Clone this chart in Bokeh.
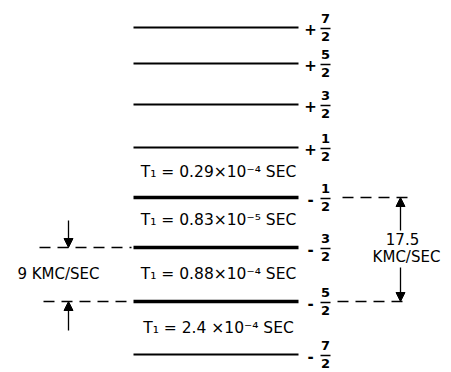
from bokeh.plotting import figure
from bokeh.models import Range1d, ColumnDataSource, Arrow, NormalHead
from bokeh.core.properties import value
from bokeh.embed import file_html
from bokeh.resources import INLINE

# ---- data (diagram units: position measured downward) ----
level_sign = ["+", "+", "+", "+", "-", "-", "-", "-"]
level_num = ["7", "5", "3", "1", "1", "3", "5", "7"]
level_den = ["2", "2", "2", "2", "2", "2", "2", "2"]
level_pos = [27, 63, 104, 147, 197, 247, 301, 354]
level_heavy = [False, False, False, False, True, True, True, False]

t1_labels = ["T\u2081 = 0.29\u00d710\u207b\u2074 SEC",
             "T\u2081 = 0.83\u00d710\u207b\u2075 SEC",
             "T\u2081 = 0.88\u00d710\u207b\u2074 SEC",
             "T\u2081 = 2.4 \u00d710\u207b\u2074 SEC"]
t1_pos = [171, 219, 273, 327]

# transitions: 9 KMC/SEC between -3/2 and -5/2 ; 17.5 KMC/SEC between -1/2 and -5/2
trans_left = (247, 301)
trans_right = (197, 301)

FONT = "DejaVu Sans"
LX0, LX1 = 133, 298

p = figure(width=451, height=372, output_backend="svg", toolbar_location=None,
           x_range=Range1d(0, 451), y_range=Range1d(372, 0),
           min_border=0)
p.axis.visible = False
p.grid.visible = False
p.outline_line_color = None
p.background_fill_color = "white"
p.border_fill_color = "white"

src = ColumnDataSource(dict(
    x0=[LX0] * len(level_pos), x1=[LX1] * len(level_pos),
    y=level_pos,
    lw=[3.5 if h else 2.0 for h in level_heavy],
    sign=level_sign, num=level_num, den=level_den,
    sx=[310] * len(level_pos), fx=[325] * len(level_pos),
    ny=[y - 9 for y in level_pos], dy=[y + 9 for y in level_pos],
    by=[y + 1 for y in level_pos],
    bx0=[320] * len(level_pos), bx1=[330] * len(level_pos),
))
p.segment(x0="x0", y0="y", x1="x1", y1="y", line_width="lw", line_color="black", source=src)
p.text(x="sx", y="by", text="sign", source=src, text_font=value(FONT), text_font_size="15px",
       text_font_style="bold", text_align="center", text_baseline="middle", text_color="black")
p.text(x="fx", y="ny", text="num", source=src, text_font=value(FONT), text_font_size="13px",
       text_font_style="bold", text_align="center", text_baseline="middle", text_color="black")
p.text(x="fx", y="dy", text="den", source=src, text_font=value(FONT), text_font_size="13px",
       text_font_style="bold", text_align="center", text_baseline="middle", text_color="black")
p.segment(x0="bx0", y0="by", x1="bx1", y1="by", line_width=1.5, line_color="black", source=src)

p.text(x=[218] * len(t1_pos), y=t1_pos, text=t1_labels, text_font=value(FONT),
       text_font_size="15.5px", text_align="center", text_baseline="middle", text_color="black")

# dashed extension lines
dash = "11 7"
p.segment(x0=[39, 43], y0=list(trans_left), x1=[131, 131], y1=list(trans_left),
          line_width=1.3, line_color="black", line_dash=dash)
p.segment(x0=[342, 337], y0=list(trans_right), x1=[408, 408], y1=list(trans_right),
          line_width=1.3, line_color="black", line_dash=dash)

# arrows
def arrow(x, y_from, y_to):
    p.add_layout(Arrow(end=NormalHead(size=9, fill_color="black", line_color="black"),
                       x_start=x, y_start=y_from, x_end=x, y_end=y_to,
                       line_width=1.3, line_color="black"))

arrow(68, trans_left[0] - 27, trans_left[0])
arrow(68, trans_left[1] + 29, trans_left[1])
arrow(400, trans_right[0] + 33, trans_right[0])
arrow(400, trans_right[1] - 34, trans_right[1])

p.text(x=[58], y=[273], text=["9 KMC/SEC"], text_font=value(FONT), text_font_size="15px",
       text_align="center", text_baseline="middle", text_color="black")
p.text(x=[402, 406], y=[238, 256], text=["17.5", "KMC/SEC"], text_font=value(FONT),
       text_font_size="15px", text_align="center", text_baseline="middle", text_color="black")

open("out.html", "w").write(file_html(p, INLINE))
